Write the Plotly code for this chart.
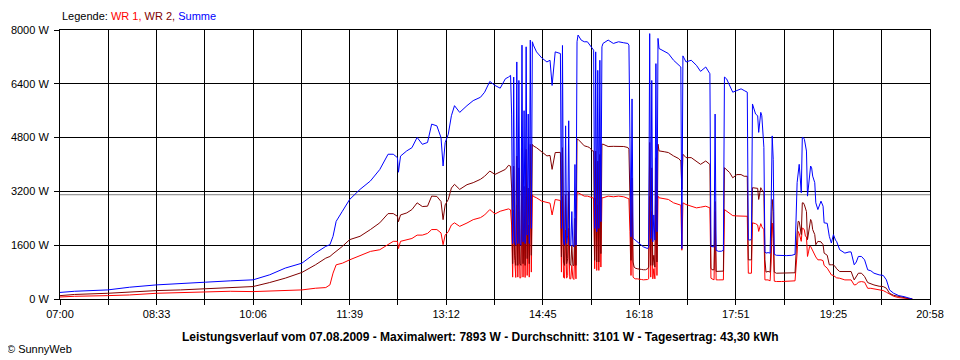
import plotly.graph_objects as go

# ---- data ----
times = [
    "07:00", "07:14", "07:46", "08:07", "08:33", "08:56", "09:20", "09:44", "10:06", "10:22",
    "10:37", "10:53", "11:06", "11:16", "11:20", "11:23", "11:26", "11:32", "11:39", "11:49",
    "11:59", "12:08", "12:16", "12:21", "12:25", "12:26", "12:28", "12:34", "12:39", "12:44",
    "12:49", "12:54", "12:58", "13:03", "13:07", "13:09", "13:11", "13:14", "13:17", "13:20",
    "13:25", "13:32", "13:38", "13:45", "13:49", "13:54", "13:59", "14:04", "14:09", "14:12",
    "14:14", "14:15", "14:16", "14:17", "14:18", "14:19", "14:20", "14:21", "14:22", "14:23",
    "14:24", "14:25", "14:26", "14:27", "14:28", "14:29", "14:30", "14:31", "14:32", "14:33",
    "14:34", "14:35", "14:36", "14:39", "14:44", "14:49", "14:52", "14:54", "14:57", "15:02",
    "15:03", "15:04", "15:05", "15:06", "15:07", "15:08", "15:09", "15:10", "15:11", "15:12",
    "15:13", "15:14", "15:15", "15:16", "15:17", "15:18", "15:19", "15:22", "15:25", "15:28",
    "15:30", "15:33", "15:34", "15:35", "15:36", "15:37", "15:38", "15:39", "15:40", "15:41",
    "15:42", "15:43", "15:48", "15:53", "15:58", "16:03", "16:07", "16:08", "16:09", "16:10",
    "16:11", "16:12", "16:13", "16:14", "16:16", "16:18", "16:20", "16:22", "16:24", "16:26",
    "16:27", "16:28", "16:29", "16:30", "16:31", "16:32", "16:33", "16:34", "16:35", "16:36",
    "16:37", "16:42", "16:46", "16:51", "16:56", "16:58", "16:59", "17:00", "17:03", "17:08",
    "17:13", "17:17", "17:22", "17:26", "17:27", "17:28", "17:30", "17:31", "17:32", "17:34",
    "17:37", "17:39", "17:40", "17:42", "17:45", "17:48", "17:52", "17:56", "17:59", "18:02",
    "18:03", "18:05", "18:06", "18:07", "18:10", "18:12", "18:13", "18:15", "18:16", "18:18",
    "18:19", "18:20", "18:22", "18:24", "18:25", "18:26", "18:27", "18:28", "18:30", "18:35",
    "18:40", "18:45", "18:48", "18:50", "18:51", "18:52", "18:53", "18:54", "18:55", "18:56",
    "18:57", "18:58", "18:59", "19:00", "19:01", "19:02", "19:03", "19:04", "19:05", "19:07",
    "19:08", "19:10", "19:12", "19:13", "19:15", "19:16", "19:19", "19:21", "19:23", "19:25",
    "19:27", "19:28", "19:31", "19:36", "19:40", "19:42", "19:45", "19:47", "19:49", "19:52",
    "19:55", "19:58", "20:01", "20:04", "20:09", "20:13", "20:16", "20:19", "20:23", "20:28",
    "20:33", "20:38", "20:41",
]

wr1 = [
    60, 80, 100, 120, 170, 190, 210, 230, 220, 230,
    250, 270, 320, 340, 420, 770, 1017, 1065, 1165, 1300,
    1415, 1465, 1615, 1715, 1715, 1500, 1715, 1765, 1800, 1900,
    1900, 1950, 2065, 2065, 1965, 1615, 1900, 2000, 2200, 2265,
    2160, 2260, 2360, 2420, 2500, 2660, 2530, 2610, 2660, 2680,
    2650, 2200, 650, 2650, 1150, 640, 2800, 650, 2600, 620,
    640, 3050, 650, 2250, 640, 3050, 700, 2200, 650, 3100,
    800, 3100, 3050, 3010, 2910, 2860, 2850, 2500, 2960, 2930,
    800, 3050, 640, 620, 2050, 620, 700, 2100, 600, 600,
    1000, 620, 580, 1600, 600, 3160, 3160, 3110, 3060, 3060,
    3040, 3010, 3000, 900, 3000, 850, 2800, 850, 2900, 950,
    3010, 3010, 3060, 3040, 3060, 3040, 3010, 2980, 2000, 700,
    2400, 650, 620, 600, 600, 580, 580, 570, 570, 580,
    600, 3060, 650, 2600, 600, 900, 600, 2800, 700, 3060,
    3010, 2980, 2960, 2860, 2810, 2790, 1450, 2860, 2810, 2760,
    2710, 2730, 2760, 2710, 618, 600, 570, 2600, 570, 568,
    568, 570, 2660, 2620, 2560, 2480, 2470, 2470, 2460, 2460,
    767, 767, 767, 2265, 2240, 2200, 2010, 2240, 2150, 2060,
    568, 568, 568, 540, 1100, 2260, 1800, 530, 520, 520,
    520, 520, 540, 1365, 2010, 1950, 1850, 1715, 2110, 2100,
    2050, 1865, 1850, 1265, 1400, 1565, 1565, 1500, 1415, 1315,
    1250, 1165, 1165, 1165, 1140, 1000, 917, 800, 718, 700,
    650, 630, 618, 568, 568, 568, 418, 430, 500, 518,
    500, 318, 318, 300, 270, 250, 200, 150, 80, 40,
    20, 0, 0,
]

wr2 = [
    100, 135, 170, 210, 250, 270, 310, 350, 370, 490,
    620, 790, 1015, 1215, 1265, 1345, 1415, 1565, 1765, 1865,
    2065, 2265, 2540, 2540, 2460, 2300, 2500, 2560, 2660, 2860,
    2750, 2760, 3060, 3050, 2900, 2360, 2800, 2960, 3300, 3410,
    3260, 3400, 3460, 3560, 3650, 3805, 3705, 3780, 3855, 3975,
    3950, 3300, 1050, 3950, 1300, 1000, 4250, 1000, 3900, 1050,
    1000, 4500, 1050, 3350, 1000, 4450, 1200, 3300, 1050, 4600,
    1300, 4600, 4550, 4500, 4380, 4255, 4270, 3855, 4355, 4360,
    1250, 4500, 1100, 1000, 3100, 1050, 1200, 3200, 1050, 1000,
    1600, 1000, 1000, 2400, 1000, 4750, 4750, 4655, 4555, 4530,
    4505, 4400, 4400, 1150, 4400, 1100, 4100, 1100, 4300, 1350,
    4600, 4605, 4535, 4540, 4540, 4535, 4505, 4450, 3000, 1150,
    3600, 1100, 950, 920, 900, 880, 880, 870, 870, 900,
    950, 4655, 1000, 3900, 1000, 1300, 950, 4200, 1100, 4605,
    4405, 4380, 4355, 4255, 4175, 4105, 3260, 4305, 4205, 4205,
    4105, 4005, 4105, 4000, 918, 870, 870, 2900, 820, 817,
    817, 830, 3905, 3850, 3760, 3605, 3700, 3700, 3650, 3650,
    1165, 1165, 1165, 3310, 3310, 3290, 2960, 3310, 3250, 3160,
    1165, 800, 820, 800, 1700, 2960, 2600, 800, 767, 767,
    767, 767, 780, 1965, 2310, 2300, 2100, 1915, 2860, 2860,
    2800, 2660, 2600, 1765, 2000, 2265, 2365, 2300, 2065, 1915,
    1615, 1715, 1715, 1700, 1615, 1365, 1300, 1017, 1017, 1017,
    950, 900, 817, 817, 830, 817, 568, 650, 767, 767,
    668, 488, 450, 418, 380, 368, 320, 170, 110, 70,
    40, 10, 0,
]

summe = [
    195, 230, 270, 350, 420, 450, 500, 540, 570, 720,
    920, 1065, 1365, 1565, 1615, 1865, 2310, 2610, 2960, 3260,
    3510, 3850, 4305, 4305, 4205, 3770, 4250, 4405, 4500, 4805,
    4600, 4655, 5200, 5150, 4800, 3955, 4650, 4900, 5450, 5750,
    5550, 5750, 5900, 6000, 6150, 6470, 6350, 6270, 6550, 6600,
    6650, 5500, 1650, 6600, 1700, 1600, 7050, 1650, 6500, 1650,
    1600, 7550, 1700, 5600, 1650, 7500, 1900, 5500, 1650, 7700,
    2100, 7650, 7550, 7350, 7170, 7050, 7100, 6350, 7350, 7300,
    2100, 7540, 1700, 1600, 5150, 1650, 1900, 5300, 1600, 1580,
    2600, 1600, 1550, 4000, 1600, 7650, 7850, 7700, 7650, 7650,
    7570, 7450, 7400, 2100, 7350, 2000, 6800, 2100, 7100, 2300,
    7500, 7600, 7700, 7600, 7650, 7620, 7600, 7550, 5000, 1850,
    5950, 1800, 1780, 1750, 1700, 1650, 1600, 1550, 1520, 1500,
    1550, 7893, 1800, 6500, 1700, 2500, 1750, 7000, 2000, 7750,
    7450, 7380, 7300, 7100, 6950, 6900, 1500, 7230, 7050, 7100,
    6950, 6770, 6900, 6700, 1565, 1560, 1550, 5500, 1450, 1420,
    1420, 1450, 6600, 6550, 6350, 6150, 6200, 6250, 6200, 6150,
    1765, 1750, 1800, 5800, 5500, 5450, 4955, 5550, 5450, 4510,
    1400, 1365, 1380, 1365, 2800, 4850, 4155, 1330, 1300, 1290,
    1290, 1300, 1330, 3460, 3855, 4005, 3600, 3160, 4805, 4800,
    4750, 4555, 4400, 3060, 3400, 3855, 3955, 3900, 3655, 3460,
    2860, 2660, 2800, 2910, 2760, 2265, 2250, 1865, 1665, 1915,
    1750, 1715, 1465, 1365, 1400, 1400, 1017, 1100, 1265, 1265,
    1165, 867, 840, 768, 718, 700, 568, 270, 170, 100,
    70, 20, 0,
]

tick_labels = ["07:00", "08:33", "10:06", "11:39", "13:12",
               "14:45", "16:18", "17:51", "19:25", "20:58"]
y_tick_values = [0, 1600, 3200, 4800, 6400, 8000]
y_tick_labels = ["0 W", "1600 W", "3200 W", "4800 W", "6400 W", "8000 W"]
average_w = 3101
series_names = ["WR 1", "WR 2", "Summe"]
series_colors = ["#ff0000", "#800000", "#0000ff"]
title_text = ("Leistungsverlauf vom 07.08.2009 - Maximalwert: 7893 W - "
              "Durchschnitt: 3101 W - Tagesertrag: 43,30 kWh")
credit_text = "© SunnyWeb"


def to_minutes(t):
    h, m = t.split(":")
    return int(h) * 60 + int(m)


x = [to_minutes(t) for t in times]
tick_vals = [to_minutes(t) for t in tick_labels]
minor_vals = [(a + b) / 2 for a, b in zip(tick_vals[:-1], tick_vals[1:])]

FONT = "Liberation Sans, Arial, sans-serif"

fig = go.Figure()
for name, vals, col in zip(series_names, [wr1, wr2, summe], series_colors):
    fig.add_trace(go.Scatter(x=x, y=vals, mode="lines", name=name,
                             line=dict(color=col, width=1), hoverinfo="skip"))

fig.add_shape(type="line", xref="paper", x0=0, x1=1, yref="y",
              y0=average_w, y1=average_w, line=dict(color="#808080", width=1),
              layer="between")

legend_html = ("Legende: <span style='color:#ff0000'>WR 1,</span> "
               "<span style='color:#800000'>WR 2,</span> "
               "<span style='color:#0000ff'>Summe</span>")

fig.add_annotation(text=legend_html, xref="paper", yref="paper", x=0, y=1,
                   xanchor="left", yanchor="middle", xshift=0, yshift=14,
                   showarrow=False, font=dict(family=FONT, size=11, color="black"))
fig.add_annotation(text="<b>" + title_text + "</b>", xref="paper", yref="paper",
                   x=(480 - 60) / 870, y=0, xanchor="center", yanchor="middle",
                   yshift=-38, showarrow=False,
                   font=dict(family=FONT, size=12, color="black"))
fig.add_annotation(text=credit_text, xref="paper", yref="paper",
                   x=(5 - 60) / 870, y=0, xanchor="left", yanchor="middle",
                   yshift=-50, showarrow=False,
                   font=dict(family=FONT, size=11, color="black"))

# the page body has an 8px margin, so the figure is made 8px smaller
fig.update_layout(
    width=952, height=352,
    margin=dict(l=52, r=30, t=22, b=61, autoexpand=False),
    paper_bgcolor="white", plot_bgcolor="white",
    showlegend=False,
    font=dict(family=FONT, size=11, color="black"),
    xaxis=dict(range=[tick_vals[0], tick_vals[-1]], tickmode="array",
               tickvals=tick_vals, ticktext=tick_labels,
               ticks="outside", ticklen=5, tickcolor="black", tickwidth=1,
               showgrid=True, gridcolor="black", gridwidth=1,
               showline=True, linecolor="black", linewidth=1, mirror=True,
               zeroline=False, automargin=False,
               minor=dict(tickmode="array", tickvals=minor_vals, ticks="outside",
                          ticklen=5, tickcolor="black", tickwidth=1,
                          showgrid=True, gridcolor="black", gridwidth=1)),
    yaxis=dict(range=[0, 8000], tickmode="array", tickvals=y_tick_values,
               ticktext=y_tick_labels, ticks="outside", ticklen=5,
               tickcolor="black", tickwidth=1, ticklabelstandoff=3,
               showgrid=True, gridcolor="black", gridwidth=1,
               showline=True, linecolor="black", linewidth=1, mirror=True,
               zeroline=False, automargin=False),
)

fig.write_html("out.html")
